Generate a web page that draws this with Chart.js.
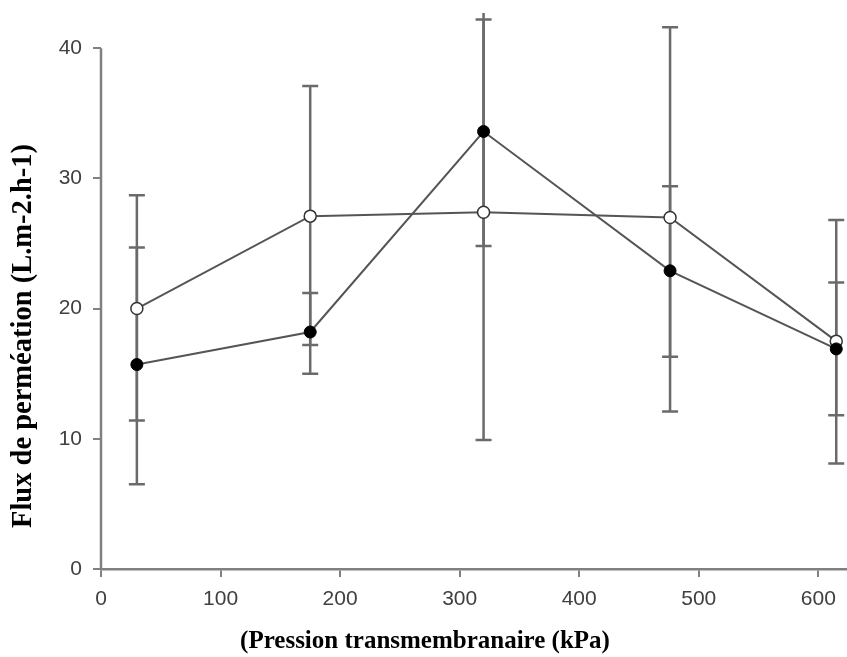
<!DOCTYPE html>
<html>
<head>
<meta charset="utf-8">
<script src="https://cdn.jsdelivr.net/npm/chart.js@4.4.0/dist/chart.umd.min.js"></script>
<style>
  html, body { margin: 0; padding: 0; background: #fff; }
  #wrap { width: 847px; height: 657px; }
</style>
</head>
<body>
<div id="wrap"><canvas id="fluxChart" width="847" height="657"></canvas></div>
<script>
// valeurs
const pressions = [30, 175, 320, 476, 615];

const fluxPlein = [15.7, 18.2, 33.6, 22.9, 16.9];
const pleinBas = [6.5, 15.0, 24.8, 16.3, 11.8];
const pleinHaut = [24.7, 21.2, 42.2, 29.4, 22.0];

const fluxOuvert = [20.0, 27.1, 27.4, 27.0, 17.5];
const ouvertBas = [11.4, 17.2, 9.9, 12.1, 8.1];
const ouvertHaut = [28.7, 37.1, 45.0, 41.6, 26.8];

const xTicks = [0, 100, 200, 300, 400, 500, 600];
const yTicks = [0, 10, 20, 30, 40];

const xTitle = '(Pression transmembranaire (kPa)';
const yTitle = 'Flux de perméation (L.m-2.h-1)';

const toPoints = vals => vals.map((v, i) => ({ x: pressions[i], y: v }));

// barres d'erreur dessinées sous les courbes
const errorBars = {
  id: 'errorBars',
  beforeDatasetsDraw(chart) {
    const { ctx, chartArea, scales: { x, y } } = chart;
    ctx.save();
    ctx.beginPath();
    ctx.rect(chartArea.left, chartArea.top, chartArea.width, chartArea.height);
    ctx.clip();
    ctx.strokeStyle = '#6a6a6a';
    ctx.lineWidth = 2.5;
    chart.data.datasets.forEach(ds => {
      ds.errLow.forEach((lo, i) => {
        const px = x.getPixelForValue(pressions[i]);
        const yLo = y.getPixelForValue(lo);
        const yHi = y.getPixelForValue(ds.errHigh[i]);
        ctx.beginPath();
        ctx.moveTo(px, yLo);
        ctx.lineTo(px, yHi);
        ctx.moveTo(px - 8, yLo);
        ctx.lineTo(px + 8, yLo);
        ctx.moveTo(px - 8, yHi);
        ctx.lineTo(px + 8, yHi);
        ctx.stroke();
      });
    });
    ctx.restore();

    // axe vertical limité de 0 à 40
    ctx.save();
    ctx.strokeStyle = '#808080';
    ctx.lineWidth = 2.5;
    ctx.beginPath();
    ctx.moveTo(chartArea.left, y.getPixelForValue(0) + 1);
    ctx.lineTo(chartArea.left, y.getPixelForValue(40));
    ctx.stroke();
    ctx.restore();
  }
};

const axisTitles = {
  id: 'axisTitles',
  afterDraw(chart) {
    const { ctx } = chart;
    ctx.save();
    ctx.fillStyle = '#000';
    ctx.textAlign = 'center';
    ctx.textBaseline = 'middle';
    ctx.font = 'bold 25px "Liberation Serif", "Times New Roman", serif';
    ctx.fillText(xTitle, 425, 642);
    ctx.translate(24, 336);
    ctx.rotate(-Math.PI / 2);
    ctx.font = 'bold 28.5px "Liberation Serif", "Times New Roman", serif';
    ctx.fillText(yTitle, 0, 0);
    ctx.restore();
  }
};

const tickFont = { family: '"Liberation Sans", Arial, sans-serif', size: 21 };

const ctx = document.getElementById('fluxChart').getContext('2d');
const fluxChart = new Chart(ctx, {
  type: 'scatter',
  data: {
    datasets: [{
      label: 'plein',
      data: toPoints(fluxPlein),
      errLow: pleinBas,
      errHigh: pleinHaut,
      showLine: true,
      borderColor: '#555',
      borderWidth: 2,
      pointRadius: 6,
      pointBackgroundColor: '#000',
      pointBorderColor: '#000',
      pointBorderWidth: 1
    }, {
      label: 'ouvert',
      data: toPoints(fluxOuvert),
      errLow: ouvertBas,
      errHigh: ouvertHaut,
      showLine: true,
      borderColor: '#555',
      borderWidth: 2,
      pointRadius: 6,
      pointBackgroundColor: '#fff',
      pointBorderColor: '#333',
      pointBorderWidth: 1.5
    }]
  },
  options: {
    responsive: false,
    animation: false,
    layout: { autoPadding: false, padding: { top: 13, left: 0, right: 0, bottom: 0 } },
    plugins: {
      legend: { display: false },
      tooltip: { enabled: false }
    },
    scales: {
      x: {
        type: 'linear',
        min: 0,
        max: 624,
        afterBuildTicks: s => { s.ticks = xTicks.map(v => ({ value: v })); },
        afterFit: s => { s.height = 88; s.paddingLeft = 0; s.paddingRight = 0; },
        ticks: { color: '#404040', font: tickFont, padding: 10 },
        grid: { drawOnChartArea: false, tickLength: 8, color: '#808080', lineWidth: 2 },
        border: { display: true, color: '#808080', width: 2.5 }
      },
      y: {
        type: 'linear',
        min: 0,
        max: 42.7,
        afterBuildTicks: s => { s.ticks = yTicks.map(v => ({ value: v })); },
        afterFit: s => { s.width = 101; s.paddingTop = 0; s.paddingBottom = 0; },
        ticks: { color: '#404040', font: tickFont, padding: 11 },
        grid: { drawOnChartArea: false, tickLength: 8, color: '#808080', lineWidth: 2 },
        border: { display: false }
      }
    }
  },
  plugins: [errorBars, axisTitles]
});
</script>
</body>
</html>
